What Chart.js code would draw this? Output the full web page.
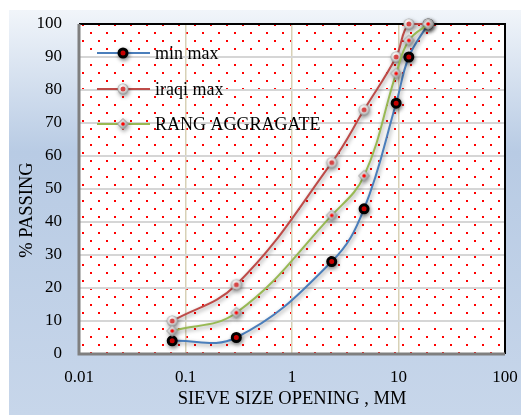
<!DOCTYPE html>
<html>
<head>
<meta charset="utf-8">
<script src="https://cdn.jsdelivr.net/npm/chart.js@4.4.1/dist/chart.umd.min.js"></script>
<style>
    html, body { margin: 0; padding: 0; background: #ffffff; }
    #wrap { width: 521px; height: 415px; position: relative; }
</style>
</head>
<body>
<div id="wrap"><canvas id="gradingChart" width="521" height="415"></canvas></div>
<script>
// sieve sizes (mm) and % passing for each curve
const sieveSizes = [0.075, 0.3, 2.36, 4.75, 9.5, 12.5, 19];
const minMax = [4, 5, 28, 44, 76, 90, 100];
const iraqiMax = [10, 21, 58, 74, 90, 100, 100];
const rangAggregate = [7, 12.5, 42, 54, 85, 95, 100];

const xTickValues = [0.01, 0.1, 1, 10, 100];
const yTickValues = [0, 10, 20, 30, 40, 50, 60, 70, 80, 90, 100];

const seriesLabels = ['min max', 'iraqi max', 'RANG AGGRAGATE'];
const xTitle = 'SIEVE SIZE OPENING , MM';
const yTitle = '% PASSING';

const SERIF = "'Liberation Serif', 'Times New Roman', serif";
const BLUE = '#4a7ebb';
const RED = '#be4b48';
const GREEN = '#98b954';

function toPoints(values) {
    return sieveSizes.map((s, i) => ({ x: s, y: values[i] }));
}

// ---- marker images ----
function makeCircleMarker() {
    const c = document.createElement('canvas');
    c.width = 14; c.height = 14;
    const g = c.getContext('2d');
    const grad = g.createRadialGradient(6, 5, 1, 7, 7, 6);
    grad.addColorStop(0, '#ffffff');
    grad.addColorStop(0.55, '#dadada');
    grad.addColorStop(1, '#858585');
    g.fillStyle = grad;
    g.beginPath(); g.arc(7, 7, 5.5, 0, Math.PI * 2); g.fill();
    g.fillStyle = '#d64545';
    g.beginPath(); g.arc(7, 7, 2.5, 0, Math.PI * 2); g.fill();
    return c;
}

function makeDiamondMarker() {
    const c = document.createElement('canvas');
    c.width = 14; c.height = 14;
    const g = c.getContext('2d');
    const grad = g.createLinearGradient(2, 2, 12, 12);
    grad.addColorStop(0, '#f4f4f4');
    grad.addColorStop(0.5, '#c8c8c8');
    grad.addColorStop(1, '#7a7a7a');
    g.fillStyle = grad;
    g.strokeStyle = '#9a9a9a';
    g.lineWidth = 1;
    g.beginPath();
    g.moveTo(7, 1.5); g.lineTo(12.5, 7); g.lineTo(7, 12.5); g.lineTo(1.5, 7);
    g.closePath(); g.fill(); g.stroke();
    g.fillStyle = '#ff0000';
    g.beginPath(); g.arc(7, 7, 1.8, 0, Math.PI * 2); g.fill();
    return c;
}

const circleMarker = makeCircleMarker();
const diamondMarker = makeDiamondMarker();

// ---- red dot pattern for the plot area ----
function makeDotPattern(ctx) {
    const tile = document.createElement('canvas');
    tile.width = 16; tile.height = 16;
    const t = tile.getContext('2d');
    t.fillStyle = '#ffffff';
    t.fillRect(0, 0, 16, 16);
    t.fillStyle = '#ff0000';
    t.fillRect(11, 8, 2, 2);
    t.fillRect(3, 0, 2, 2);
    return ctx.createPattern(tile, 'repeat');
}

function setShadow(ctx) {
    ctx.shadowColor = 'rgba(0,0,0,0.4)';
    ctx.shadowBlur = 4;
    ctx.shadowOffsetX = 1;
    ctx.shadowOffsetY = 2;
}

const backgroundPlugin = {
    id: 'background',
    beforeDraw(chart) {
        const { ctx, chartArea: a } = chart;
        ctx.save();
        const grad = ctx.createLinearGradient(0, 10, 0, chart.height);
        grad.addColorStop(0, '#f1f5fa');
        grad.addColorStop(0.35, '#b8cbe4');
        grad.addColorStop(1, '#c7d6ea');
        ctx.fillStyle = grad;
        ctx.fillRect(9, 10, chart.width - 9, chart.height - 10);

        ctx.translate(a.left, a.top);
        ctx.fillStyle = makeDotPattern(ctx);
        ctx.fillRect(0, 0, a.right - a.left, a.bottom - a.top);
        ctx.restore();
    },
    beforeDatasetsDraw(chart) {
        const { ctx, chartArea: a } = chart;
        ctx.save();
        // top and right edges
        ctx.strokeStyle = '#000000';
        ctx.lineWidth = 2;
        ctx.beginPath();
        ctx.moveTo(a.left, a.top);
        ctx.lineTo(a.right, a.top);
        ctx.lineTo(a.right, a.bottom);
        ctx.stroke();
        // left and bottom edges
        ctx.strokeStyle = '#7f7f7f';
        ctx.lineWidth = 3;
        ctx.beginPath();
        ctx.moveTo(a.left, a.top);
        ctx.lineTo(a.left, a.bottom);
        ctx.lineTo(a.right, a.bottom);
        ctx.stroke();

        // axis titles
        ctx.fillStyle = '#000000';
        ctx.font = '18.5px ' + SERIF;
        ctx.textAlign = 'center';
        ctx.textBaseline = 'middle';
        ctx.fillText(xTitle, (a.left + a.right) / 2, 399);
        ctx.translate(27, 210);
        ctx.rotate(-Math.PI / 2);
        ctx.fillText(yTitle, 0, 0);
        ctx.restore();
    }
};

// drop shadow under lines and markers
const shadowPlugin = {
    id: 'shadow',
    beforeDatasetDraw(chart) {
        chart.ctx.save();
        setShadow(chart.ctx);
    },
    afterDatasetDraw(chart) {
        chart.ctx.restore();
    }
};

// legend inside the plot area, top left
const insideLegendPlugin = {
    id: 'insideLegend',
    afterDatasetsDraw(chart) {
        const ctx = chart.ctx;
        const rows = [53, 89, 124];
        const colors = [BLUE, RED, GREEN];
        ctx.save();
        rows.forEach((y, i) => {
            ctx.strokeStyle = colors[i];
            ctx.lineWidth = 2;
            ctx.beginPath();
            ctx.moveTo(97, y);
            ctx.lineTo(150, y);
            ctx.stroke();

            ctx.save();
            setShadow(ctx);
            if (i === 0) {
                ctx.fillStyle = '#ff0000';
                ctx.strokeStyle = '#000000';
                ctx.lineWidth = 3;
                ctx.beginPath();
                ctx.arc(123, y, 4, 0, Math.PI * 2);
                ctx.fill();
                ctx.stroke();
            } else {
                ctx.drawImage(i === 1 ? circleMarker : diamondMarker, 116, y - 7);
            }
            ctx.restore();

            ctx.fillStyle = '#000000';
            ctx.font = '18px ' + SERIF;
            ctx.textAlign = 'left';
            ctx.textBaseline = 'middle';
            ctx.fillText(seriesLabels[i], 155, y + 1);
        });
        ctx.restore();
    }
};

const ctx = document.getElementById('gradingChart');

new Chart(ctx, {
    type: 'line',
    data: {
        datasets: [
            {
                label: seriesLabels[0],
                data: toPoints(minMax),
                borderColor: BLUE,
                borderWidth: 2,
                pointStyle: 'circle',
                pointRadius: 4,
                pointBackgroundColor: '#ff0000',
                pointBorderColor: '#000000',
                pointBorderWidth: 3,
                tension: 0.4,
                clip: false,
                order: 3
            },
            {
                label: seriesLabels[1],
                data: toPoints(iraqiMax),
                borderColor: RED,
                borderWidth: 2,
                pointStyle: circleMarker,
                tension: 0.4,
                clip: false,
                order: 2
            },
            {
                label: seriesLabels[2],
                data: toPoints(rangAggregate),
                borderColor: GREEN,
                borderWidth: 2,
                pointStyle: diamondMarker,
                tension: 0.4,
                clip: false,
                order: 1
            }
        ]
    },
    options: {
        responsive: false,
        animation: false,
        events: [],
        layout: {
            padding: { left: 0, top: 24, right: 16, bottom: 0 }
        },
        plugins: {
            legend: { display: false },
            tooltip: { enabled: false }
        },
        scales: {
            x: {
                type: 'logarithmic',
                min: 0.01,
                max: 100,
                afterBuildTicks(scale) {
                    scale.ticks = xTickValues.map(v => ({ value: v, major: true }));
                },
                afterFit(scale) {
                    scale.height = 61;
                    scale.paddingLeft = 0;
                    scale.paddingRight = 0;
                },
                ticks: {
                    autoSkip: false,
                    maxRotation: 0,
                    padding: 13,
                    color: '#000000',
                    font: { family: SERIF, size: 17 },
                    callback: (v) => String(v)
                },
                grid: {
                    drawTicks: false,
                    color: (c) => (c.tick && (c.tick.value === 0.01 || c.tick.value === 100)) ? 'rgba(0,0,0,0)' : '#d8d1b6',
                    lineWidth: 1.5
                },
                border: { display: false }
            },
            y: {
                min: 0,
                max: 100,
                afterBuildTicks(scale) {
                    scale.ticks = yTickValues.map(v => ({ value: v }));
                },
                afterFit(scale) {
                    scale.width = 79;
                    scale.paddingTop = 0;
                    scale.paddingBottom = 0;
                },
                ticks: {
                    padding: 17,
                    color: '#000000',
                    font: { family: SERIF, size: 17 }
                },
                grid: {
                    drawTicks: false,
                    color: (c) => (c.tick && (c.tick.value === 0 || c.tick.value === 100)) ? 'rgba(0,0,0,0)' : '#d6d6d6',
                    lineWidth: 2
                },
                border: { display: false }
            }
        }
    },
    plugins: [backgroundPlugin, shadowPlugin, insideLegendPlugin]
});
</script>
</body>
</html>
